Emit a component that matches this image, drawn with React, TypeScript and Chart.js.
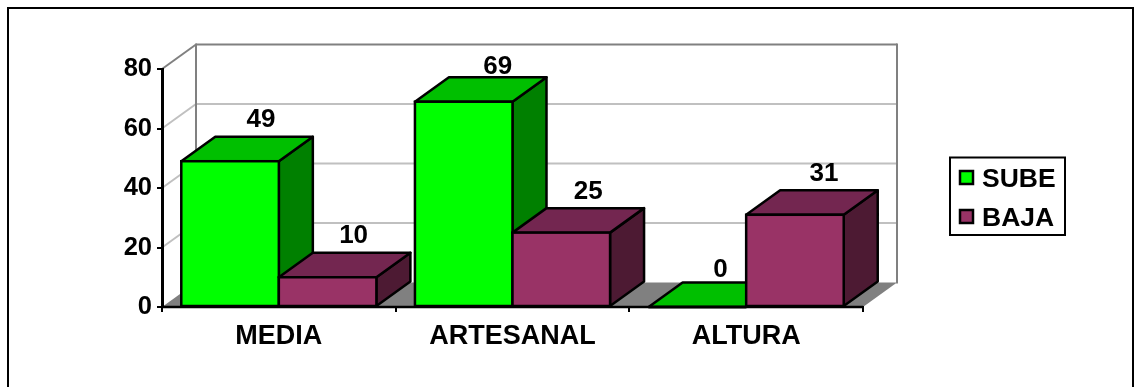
import React, { useEffect, useRef } from "react";
import { Chart, registerables } from "chart.js";

Chart.register(...registerables);

const categories = ["MEDIA", "ARTESANAL", "ALTURA"];
const subeValues = [49, 69, 0];
const bajaValues = [10, 25, 31];
const yTicksMax = 80;
const yTickStep = 20;

const FONT = '"Liberation Sans", Arial, sans-serif';
const DEPTH_X = 34;
const DEPTH_Y = 24.5;
const OUTLINE = 2.5;

const faceColors = [
  { front: "#00FF00", top: "#00BF00", side: "#008000" },
  { front: "#993366", top: "#732650", side: "#4D1A33" },
];
// placement of each value label, relative to the back edge of its bar's top face
const labelShift = [
  [31, 34, 23],
  [26, 27, 29],
];
const labelLift = [
  [10, 3, 6],
  [10, 9, 9],
];
const legendSwatchTops = [171, 210];

const poly = (ctx: CanvasRenderingContext2D, pts: number[][], fill: string | null, stroke: string | null, lw = OUTLINE) => {
  ctx.beginPath();
  pts.forEach((p, i) => (i ? ctx.lineTo(p[0], p[1]) : ctx.moveTo(p[0], p[1])));
  ctx.closePath();
  if (fill) {
    ctx.fillStyle = fill;
    ctx.fill();
  }
  if (stroke) {
    ctx.strokeStyle = stroke;
    ctx.lineWidth = lw;
    ctx.lineJoin = "round";
    ctx.stroke();
  }
};

const line = (ctx: CanvasRenderingContext2D, x1: number, y1: number, x2: number, y2: number, color: string, lw: number) => {
  ctx.beginPath();
  ctx.moveTo(x1, y1);
  ctx.lineTo(x2, y2);
  ctx.strokeStyle = color;
  ctx.lineWidth = lw;
  ctx.stroke();
};

const scene3d = {
  id: "scene3d",
  afterLayout(chart: any) {
    const lg = chart.legend;
    lg.left = 948.25;
    lg.right = 1065;
    lg.top = 153.75;
    lg.bottom = 330;
  },
  beforeDraw(chart: any) {
    const ctx: CanvasRenderingContext2D = chart.ctx;
    const { left, right } = chart.chartArea;
    const y = chart.scales.y;
    const y0 = y.getPixelForValue(0);
    const yTop = y.getPixelForValue(yTicksMax);
    ctx.save();
    // outer frame (runs past the bottom of the picture)
    ctx.strokeStyle = "#000";
    ctx.lineWidth = 2;
    ctx.strokeRect(8, 8, 1125, 600);
    // floor
    poly(ctx, [[left, y0], [left + DEPTH_X, y0 - DEPTH_Y], [right + DEPTH_X, y0 - DEPTH_Y], [right, y0]], "#808080", null);
    // gridlines over both walls
    y.ticks.forEach((t: any) => {
      if (t.value === 0) return;
      const py = y.getPixelForValue(t.value);
      const c = t.value === yTicksMax ? "#808080" : "#C0C0C0";
      line(ctx, left, py, left + DEPTH_X, py - DEPTH_Y, c, 2);
      line(ctx, left + DEPTH_X, py - DEPTH_Y, right + DEPTH_X, py - DEPTH_Y, c, 2);
    });
    // wall edges
    line(ctx, left + DEPTH_X, yTop - DEPTH_Y - 1, left + DEPTH_X, y0 - DEPTH_Y, "#808080", 2);
    line(ctx, right + DEPTH_X, yTop - DEPTH_Y - 1, right + DEPTH_X, y0 - DEPTH_Y + 1, "#808080", 2);
    ctx.restore();
  },
  // Datasets are painted first to last so that BAJA's faces overlap SUBE's.
  beforeDatasetsDraw(chart: any) {
    const ctx: CanvasRenderingContext2D = chart.ctx;
    const { left, right } = chart.chartArea;
    const y0 = chart.scales.y.getPixelForValue(0);
    chart.data.datasets.forEach((_: any, d: number) => {
      const meta = chart.getDatasetMeta(d);
      const colors = faceColors[d];
      ctx.save();
      meta.data.forEach((bar: any) => {
        const l = bar.x - bar.width / 2;
        const r = bar.x + bar.width / 2;
        const t = bar.y;
        const b = bar.base;
        if (b - t > 0.5) {
          poly(ctx, [[r, t], [r + DEPTH_X, t - DEPTH_Y], [r + DEPTH_X, b - DEPTH_Y], [r, b]], colors.side, "#000");
        }
        poly(ctx, [[l, t], [l + DEPTH_X, t - DEPTH_Y], [r + DEPTH_X, t - DEPTH_Y], [r, t]], colors.top, "#000");
      });
      ctx.restore();
      meta.controller.draw();
      ctx.save();
      ctx.strokeStyle = "#000";
      ctx.lineWidth = OUTLINE;
      meta.data.forEach((bar: any) => {
        ctx.strokeRect(bar.x - bar.width / 2, bar.y, bar.width, bar.base - bar.y);
      });
      ctx.restore();
    });
    ctx.save();
    line(ctx, left, y0, right, y0, "#000", OUTLINE);
    ctx.font = `bold 26px ${FONT}`;
    ctx.fillStyle = "#000";
    ctx.textAlign = "center";
    ctx.textBaseline = "alphabetic";
    chart.data.datasets.forEach((ds: any, d: number) => {
      chart.getDatasetMeta(d).data.forEach((bar: any, i: number) => {
        ctx.fillText(String(ds.data[i]), bar.x + labelShift[d][i], bar.y - DEPTH_Y - labelLift[d][i]);
      });
    });
    ctx.restore();
    return false;
  },
  afterDraw(chart: any) {
    const ctx: CanvasRenderingContext2D = chart.ctx;
    ctx.save();
    ctx.strokeStyle = "#000";
    ctx.lineWidth = 2;
    ctx.strokeRect(950, 157.5, 115, 77.5);
    ctx.lineWidth = OUTLINE;
    legendSwatchTops.forEach((top, i) => {
      ctx.fillStyle = faceColors[i].front;
      ctx.fillRect(960, top, 13, 13);
      ctx.strokeRect(960, top, 13, 13);
    });
    ctx.restore();
  },
};

export default function App() {
  const ref = useRef<HTMLCanvasElement>(null);
  useEffect(() => {
    if (!ref.current) return;
    const chart = new Chart(ref.current, {
      type: "bar",
      data: {
        labels: categories,
        datasets: [
          { label: "SUBE", data: subeValues, backgroundColor: faceColors[0].front, borderWidth: 0, inflateAmount: 0 },
          { label: "BAJA", data: bajaValues, backgroundColor: faceColors[1].front, borderWidth: 0, inflateAmount: 0 },
        ],
      } as any,
      options: {
        responsive: false,
        animation: false,
        layout: { padding: { left: 0, top: 69, right: 156, bottom: 0 } },
        datasets: { bar: { categoryPercentage: 0.835, barPercentage: 1 } },
        plugins: {
          tooltip: { enabled: false },
          legend: {
            position: "right",
            align: "start",
            maxWidth: 115,
            labels: {
              boxWidth: 8,
              boxHeight: 8,
              padding: 12.5,
              color: "#000",
              font: { family: FONT, weight: "bold", size: 26.5, lineHeight: 1.16 },
              generateLabels: (c: any) =>
                c.data.datasets.map((ds: any, i: number) => ({
                  text: ds.label,
                  fillStyle: ds.backgroundColor,
                  strokeStyle: "#000",
                  lineWidth: 0,
                  datasetIndex: i,
                })),
            },
          },
        } as any,
        scales: {
          x: {
            grid: { drawOnChartArea: false, color: "#000", lineWidth: 2, tickLength: 5, offset: true },
            border: { color: "#000", width: 2 },
            ticks: { color: "#000", font: { family: FONT, weight: "bold", size: 27 }, padding: 8, maxRotation: 0 },
            afterFit: (s: any) => { s.height = 80; },
          },
          y: {
            min: 0,
            max: yTicksMax,
            grid: { drawOnChartArea: false, color: "#000", lineWidth: 2, tickLength: 5 },
            border: { color: "#000", width: 3 },
            ticks: { stepSize: yTickStep, color: "#000", font: { family: FONT, weight: "bold", size: 25.5 }, padding: 5 },
            afterFit: (s: any) => { s.width = 162; },
          },
        },
      } as any,
      plugins: [scene3d],
    });
    return () => chart.destroy();
  }, []);
  return (
    <canvas
      ref={ref}
      width={1134}
      height={387}
      style={{ position: "fixed", left: 0, top: 0, width: 1134, height: 387, display: "block" }}
    />
  );
}
